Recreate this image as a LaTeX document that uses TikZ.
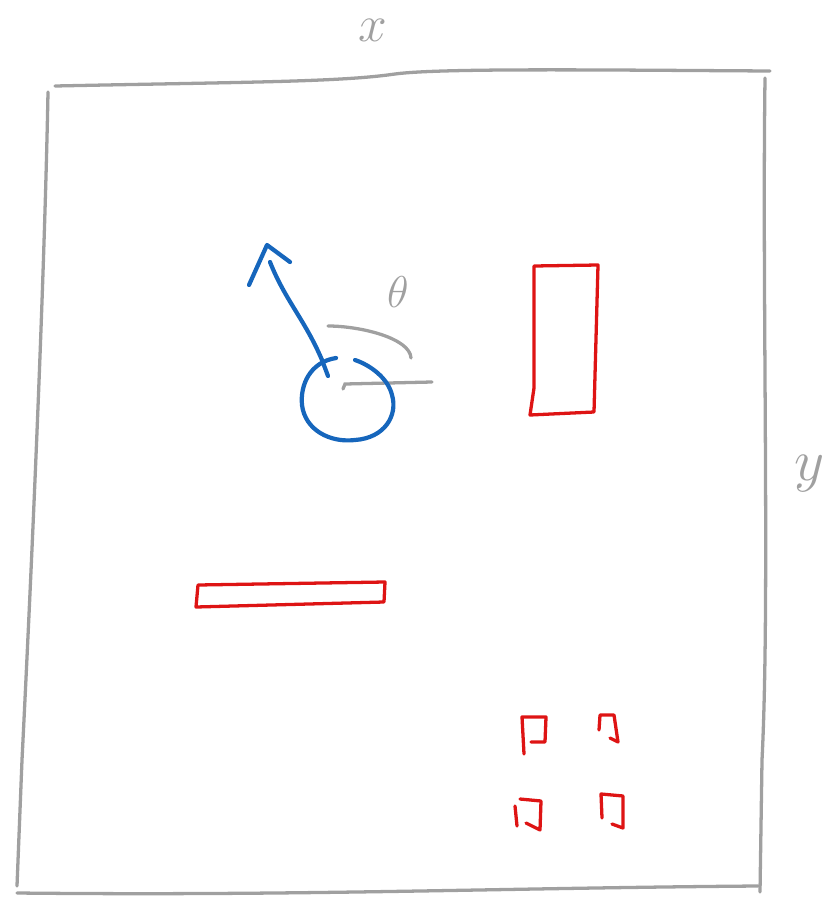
\documentclass[tikz,border=0pt]{standalone}
\usepackage{fix-cm}
\usepackage{tikz}
\definecolor{penblue}{RGB}{22,102,188}
\definecolor{penred}{RGB}{222,20,20}
\definecolor{pengray}{RGB}{160,160,160}
\tikzset{
  frame/.style={pengray, line width=2.8pt, line cap=round, line join=round},
  graypen/.style={pengray, line width=2.8pt, line cap=round},
  redbox/.style={penred, line width=2.8pt, line cap=round, line join=round},
  bluepen/.style={penblue, line width=3.6pt, line cap=round, line join=round},
  axislabel/.style={pengray, inner sep=0pt, font=\fontsize{50}{54}\selectfont}
}
\begin{document}
\begin{tikzpicture}[x=0.03cm, y=-0.03cm]
		\useasboundingbox (0,0) rectangle (831,904);

		\draw[frame] (55,86) .. controls (250,82) and (340,82) .. (395,74)
			.. controls (440,68) and (600,70) .. (770,71);
		\draw[frame] (765,78) .. controls (762,300) and (770,600) .. (762,760) -- (760,892);
		\draw[frame] (758,886) .. controls (500,888) and (300,896) .. (17,893);
		\draw[frame] (48,92) .. controls (44,300) and (30,600) .. (22,760) -- (17,886);

		\node[axislabel, font=\fontsize{44}{48}\selectfont] (xlab) at (373,30) {$x$};
		\node[axislabel] (ylab) at (810,474) {$y$};
		\node[axislabel, font=\fontsize{38}{42}\selectfont] (thlab) at (398,292) {$\theta$};

		\draw[graypen] (328,326) .. controls (360,326) and (410,338) .. (411,358);
		\draw[graypen] (343,389) -- (345,384) -- (432,382);

		\draw[bluepen] (336,358) .. controls (310,362) and (300,385) .. (302,405)
			.. controls (305,430) and (330,443) .. (355,440)
			.. controls (385,438) and (398,415) .. (392,395)
			.. controls (388,378) and (370,365) .. (355,360);
		\draw[bluepen] (328,376) -- (322,360) .. controls (305,320) and (285,300) .. (270,262);
		\draw[bluepen] (249,285) -- (267,245) -- (290,262);

		\draw[redbox] (534,266) -- (598,265) -- (594,412) -- (530,415) -- (534,388) -- cycle;
		\draw[redbox] (198,585) -- (385,582) -- (384,602) -- (196,607) -- cycle;

		\draw[redbox] (524,754) -- (522,717) -- (546,717) -- (545,742) -- (531,742);
		\draw[redbox] (599,730) -- (600,715) -- (614,715) -- (618,742) -- (610,738);
		\draw[redbox] (515,806) -- (517,826);
		\draw[redbox] (520,799) -- (541,801) -- (540,830) -- (526,823);
		\draw[redbox] (602,818) -- (601,794) -- (623,796) -- (623,828) -- (612,824);

	\end{tikzpicture}
\end{document}
